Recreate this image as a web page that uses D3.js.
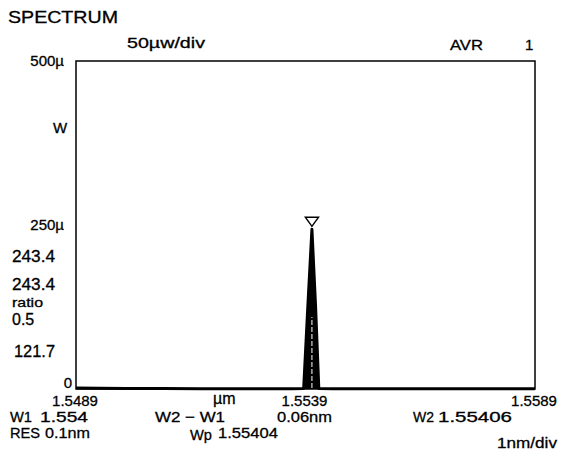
<!DOCTYPE html>
<html>
<head>
<meta charset="utf-8">
<script src="https://cdn.jsdelivr.net/npm/d3@7"></script>
<style>
  body { margin: 0; background: #fff; }
  text { font-family: "Liberation Sans", Arial, sans-serif; fill: #000; stroke: #000; stroke-width: 0.3px; }
</style>
</head>
<body>
<div id="plot"></div>
<script>
// Chart size
var svgWidth = 570;
var svgHeight = 451;

// Plot frame
var margin = { top: 61, right: 35, bottom: 62, left: 76 };
var width = svgWidth - margin.left - margin.right;
var height = svgHeight - margin.top - margin.bottom;

// Spectrum trace: wavelength (um) and power (uW)
var wavelength = [1.5489, 1.5494, 1.5500, 1.5508, 1.5516, 1.5524, 1.5531, 1.5536,
  1.55386, 1.55395, 1.55404, 1.55412, 1.55419, 1.5545, 1.5552, 1.5560, 1.5568,
  1.5576, 1.5583, 1.5589];
var power = [1.4, 1.2, 0.9, 0.7, 0.5, 0.4, 0.4, 0.5,
  0.8, 125, 243.4, 125, 0.8, 0.4, 0.3, 0.3, 0.3,
  0.2, 0.2, 0.2];

// Axis ranges and tick labels
var xDomain = [1.5489, 1.5589];
var xTicks = [1.5489, 1.5539, 1.5589];
var xTickLabels = ["1.5489", "1.5539", "1.5589"];
var yDomain = [0, 500];
var yTicks = [500, 250, 0];
var yTickLabels = ["500\u00b5", "250\u00b5", "0"];

// Marker / readouts
var peakWavelength = 1.55404;
var peakPower = 243.4;

var svg = d3.select("#plot")
  .append("svg")
  .attr("width", svgWidth)
  .attr("height", svgHeight);

var chartGroup = svg.append("g")
  .attr("transform", `translate(${margin.left}, ${margin.top})`);

var x = d3.scaleLinear().domain(xDomain).range([0, width]);
var y = d3.scaleLinear().domain(yDomain).range([height, 0]);

// frame
chartGroup.append("rect")
  .attr("x", 0).attr("y", 0)
  .attr("width", width).attr("height", height)
  .attr("fill", "none")
  .attr("stroke", "#000")
  .attr("stroke-width", 1.5);

var pts = wavelength.map((w, i) => [w, power[i]]);

// spectrum (filled peak + trace)
chartGroup.append("path")
  .datum(pts)
  .attr("d", d3.area().x(d => x(d[0])).y0(height).y1(d => y(d[1])))
  .attr("fill", "#000");

chartGroup.append("path")
  .datum(pts)
  .attr("d", d3.line().x(d => x(d[0])).y(d => y(d[1])))
  .attr("fill", "none")
  .attr("stroke", "#000")
  .attr("stroke-width", 3)
  .attr("stroke-linejoin", "round");

// white dashed trace inside peak
chartGroup.append("line")
  .attr("x1", x(peakWavelength)).attr("x2", x(peakWavelength))
  .attr("y1", y(0) - 1).attr("y2", y(peakPower * 0.45))
  .attr("stroke", "#fff")
  .attr("stroke-width", 1)
  .attr("stroke-dasharray", "5,2");

// peak marker (down triangle)
var mx = x(peakWavelength), my = y(peakPower) - 3;
chartGroup.append("path")
  .attr("d", `M${mx - 6.5},${my - 9} L${mx + 6.5},${my - 9} L${mx},${my} Z`)
  .attr("fill", "#fff")
  .attr("stroke", "#000")
  .attr("stroke-width", 1.5);

// y tick labels
svg.selectAll(".ylab")
  .data(yTicks)
  .enter()
  .append("text")
  .attr("class", "ylab")
  .attr("x", (d, i) => i == 2 ? 72 : 64)
  .attr("y", (d, i) => margin.top + y(d) + (i == 2 ? -1 : 5))
  .attr("text-anchor", "end")
  .style("font-size", "15px")
  .text((d, i) => yTickLabels[i]);

// x tick labels
svg.selectAll(".xlab")
  .data(xTicks)
  .enter()
  .append("text")
  .attr("class", "xlab")
  .attr("x", d => margin.left + x(d) - 1)
  .attr("y", 406)
  .attr("text-anchor", "middle")
  .style("font-size", "15px")
  .text((d, i) => xTickLabels[i]);

// other labels
function label(txt, px, py, size, len) {
  var t = svg.append("text")
    .attr("x", px).attr("y", py)
    .style("font-size", size + "px")
    .text(txt);
  if (len) t.attr("textLength", len).attr("lengthAdjust", "spacingAndGlyphs");
  return t;
}

label("SPECTRUM", 8, 23, 17, 110);
label("50\u00b5w/div", 127, 48, 15, 78);
label("AVR", 450, 50, 15, 33);
label("1", 525, 50, 15);
label("W", 53, 133, 15);
label("243.4", 12, 262, 16, 43);
label("243.4", 12, 290, 16, 43);
label("ratio", 12, 307, 13, 31);
label("0.5", 12, 325, 16);
label("121.7", 14, 357, 16, 41);

label("\u00b5m", 213, 404, 16);
label("W1", 10, 422, 15, 22);
label("1.554", 40, 422, 15, 48);
label("W2 \u2212 W1", 155, 422, 15, 70);
label("0.06nm", 277, 422, 15, 55);
label("W2", 413, 422, 15, 21);
label("1.55406", 438, 422, 15, 74);
label("RES", 10, 438, 15, 30);
label("0.1nm", 45, 438, 15, 45);
label("Wp", 190, 440, 15, 22);
label("1.55404", 218, 438, 15, 60);
label("1nm/div", 497, 448, 15, 60);
</script>
</body>
</html>
